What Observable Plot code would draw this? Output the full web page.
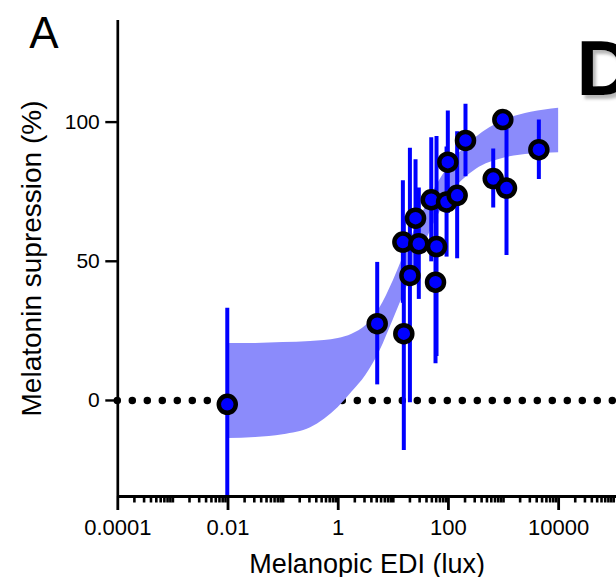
<!DOCTYPE html>
<html>
<head>
<meta charset="utf-8">
<script src="https://cdn.jsdelivr.net/npm/d3@7"></script>
<script src="https://cdn.jsdelivr.net/npm/@observablehq/plot@0.6"></script>
<style>
  html, body { margin: 0; padding: 0; background: #fff; }
  #chart svg { display: block; font-family: "Liberation Sans", Arial, sans-serif; }
</style>
</head>
<body>
<div id="chart"></div>
<script>
// ---- data ----
const luxValues = [0.0097, 5.1, 15.5, 14.9, 20, 25.3, 29, 48.8, 58.3, 60.8, 92.5, 97.5, 144, 204, 650, 971, 1132, 4375];
const suppression = [-1.4, 27.6, 24.0, 56.9, 44.9, 65.5, 56.3, 72.1, 42.5, 55.3, 71.3, 85.6, 73.7, 93.4, 79.7, 100.9, 76.3, 90.1];
const errorHalf = [34.5, 22, 42, 22, 45.7, 21, 20, 22.3, 29.3, 39.5, 19.8, 18.4, 22.8, 13, 10.6, 3, 24.2, 10.7];

const bandLux  = [0.01, 0.0316, 0.1, 0.316, 1, 1.78, 3.16, 5.62, 10, 17.8, 31.6, 56.2, 100, 178, 316, 1000, 3162, 10000];
const bandHigh = [20.5, 20.5, 20.8, 21.2, 22.3, 23.8, 26.8, 33, 43, 55, 66, 76, 84, 90, 94.5, 100.5, 103.5, 105];
const bandLow  = [-13.7, -13.3, -12.3, -9.8, -2.5, 3, 9, 17.5, 29, 41, 53, 64, 73, 79, 83, 87, 88.5, 89];

const majorTicks = [1e-4, 1e-2, 1, 1e2, 1e4];
const majorLabels = ["0.0001", "0.01", "1", "100", "10000"];
const yTicks = [0, 50, 100];

const xDomain = [1e-4, Math.pow(10, 5.05)];
const yDomain = [-34.5, 136.5];

// ---- derived tables ----
const points = luxValues.map((x, i) => ({x, y: suppression[i], e: errorHalf[i]}));
const band = bandLux.map((x, i) => ({x, lo: bandLow[i], hi: bandHigh[i]}));
const minorTicks = [];
for (let p = -4; p <= 5; p++) {
  for (let m = 1; m <= 9; m++) {
    const v = m * Math.pow(10, p);
    if (v > xDomain[1]) break;
    if (m === 1 && p % 2 === 0) continue;
    minorTicks.push(v);
  }
}

const chart = Plot.plot({
  width: 616,
  height: 577,
  marginLeft: 117.3,
  marginRight: 0,
  marginTop: 20,
  marginBottom: 81,
  style: {fontFamily: "Liberation Sans, Arial, sans-serif", color: "#000", background: "#fff"},
  x: {type: "log", domain: xDomain},
  y: {domain: yDomain},
  marks: [
    Plot.ruleY([0], {stroke: "#000", strokeWidth: 7.5, strokeDasharray: "0 15", strokeLinecap: "round"}),
    Plot.areaY(band, {x: "x", y1: "lo", y2: "hi", fill: "#8b8bfb", curve: "monotone-x"}),
    Plot.ruleX(points, {x: "x", y1: d => d.y - d.e, y2: d => d.y + d.e, stroke: "#0000ff", strokeWidth: 4, clip: true}),
    Plot.dot(points, {x: "x", y: "y", r: 8.5, fill: "#0000ff", stroke: "#000", strokeWidth: 4.5}),
    Plot.ruleX([xDomain[0]], {stroke: "#000", strokeWidth: 2.7}),
    Plot.ruleY([yDomain[0]], {stroke: "#000", strokeWidth: 3}),
    Plot.axisX(minorTicks, {tickSize: 6.5, strokeWidth: 2.6, tickFormat: () => "", label: null}),
    Plot.axisX(majorTicks, {tickSize: 14, strokeWidth: 2.8, tickPadding: 9, fontSize: 22,
      tickFormat: (d) => majorLabels[majorTicks.indexOf(d)],
      label: "Melanopic EDI (lux)", labelAnchor: "center", labelOffset: 76, labelArrow: "none"}),
    Plot.axisY(yTicks, {tickSize: 12, strokeWidth: 2.4, tickPadding: 6, fontSize: 21,
      label: "Melatonin supression (%)", labelAnchor: "center", labelOffset: 97, labelArrow: "none"}),
    Plot.text(["A"], {frameAnchor: "top-left", dx: -74, dy: -4, fontSize: 44, textAnchor: "middle", lineAnchor: "top", fill: "#000"}),
    Plot.text(["D"], {frameAnchor: "top-right", dx: -40, dy: 19, fontSize: 78, fontWeight: "bold", textAnchor: "start", lineAnchor: "top", fill: "#000"})
  ]
});

// axis titles a bit larger, and a soft shadow on the cropped panel letter
chart.querySelectorAll("text").forEach(t => {
  if (t.textContent === "Melanopic EDI (lux)") t.setAttribute("font-size", "27");
  if (t.textContent === "Melatonin supression (%)") t.setAttribute("font-size", "28");
});
const ns = "http://www.w3.org/2000/svg";
const defs = document.createElementNS(ns, "defs");
const filter = document.createElementNS(ns, "filter");
filter.setAttribute("id", "dshadow");
filter.setAttribute("x", "-20%"); filter.setAttribute("y", "-20%");
filter.setAttribute("width", "150%"); filter.setAttribute("height", "150%");
const fe = document.createElementNS(ns, "feDropShadow");
fe.setAttribute("dx", "3"); fe.setAttribute("dy", "4");
fe.setAttribute("stdDeviation", "1.5");
fe.setAttribute("flood-color", "#888"); fe.setAttribute("flood-opacity", "0.6");
filter.appendChild(fe); defs.appendChild(filter);
chart.insertBefore(defs, chart.firstChild);
chart.querySelectorAll("text").forEach(t => {
  if (t.textContent === "D") t.setAttribute("filter", "url(#dshadow)");
});
document.getElementById("chart").appendChild(chart);
</script>
</body>
</html>
